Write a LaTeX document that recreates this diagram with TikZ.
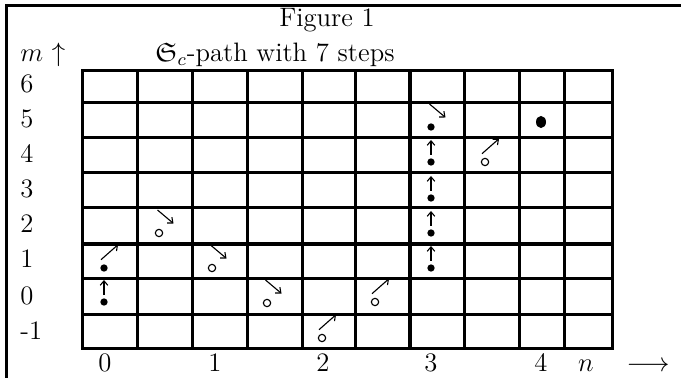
\documentclass[tikz,border=0pt]{standalone}
\usepackage{amssymb}
\usetikzlibrary{arrows.meta,shapes.geometric}
\newcommand{\upvec}[1]{\path (#1) ++(0,-7) coordinate (#1s) ++(0,-15) coordinate (#1e); \draw[vec] (#1s) -- (#1e);}
\newcommand{\nevec}[1]{\path (#1) ++(-3,-8.3) coordinate (#1s) ++(17,-15) coordinate (#1e); \draw[vec] (#1s) -- (#1e);}
\newcommand{\sevec}[1]{\path (#1) ++(-1.5,-23) coordinate (#1s) ++(16,13.5) coordinate (#1e); \draw[vec] (#1s) -- (#1e);}
\begin{document}
\begin{tikzpicture}[x=0.45pt,y=-0.45pt,
  font=\fontsize{12}{14}\selectfont,
  gridline/.style={line width=1.35pt},
  thickline/.style={line width=1.7pt},
  frameline/.style={line width=1.3pt},
  lab/.style={inner sep=0pt, anchor=base},
  rowlab/.style={inner sep=0pt, anchor=base west},
  dotmark/.style={circle, fill, inner sep=0pt, minimum size=3.3pt},
  ringmark/.style={circle, draw, line width=0.5pt, inner sep=0pt, minimum size=3.3pt},
  bigdot/.style={ellipse, fill, inner sep=0pt, minimum width=4.5pt, minimum height=5.5pt},
  vec/.style={line width=0.5pt, -{Straight Barb[length=2pt,width=3.4pt]}},
]
\useasboundingbox (0,0) rectangle (681,378);
% frame
\coordinate (ftl) at (6.5,5.5);
\coordinate (ftr) at (681,5.5);
\coordinate (fbl) at (6.5,378);
\draw[frameline] (ftr) -- (ftl) -- (fbl);
% grid
\foreach \gx in {82,137,192,247,302,355,464,519,564,612}
  \draw[gridline] (\gx,71) -- (\gx,348);
\foreach \gy in {71,103,138,173,208,279,314,348}
  \draw[gridline] (82,\gy) -- (612,\gy);
\draw[thickline] (410,71) -- (410,348);
\draw[thickline] (82,244) -- (612,244);
\draw[gridline, line cap=rect] (82,71) rectangle (612,348);
% texts
\node[lab] (title) at (327,27) {Figure 1};
\node[rowlab] (mlab) at (20,62) {$m$ $\uparrow$};
\node[lab] (sub) at (275,62) {$\mathfrak{S}_c$-path with 7 steps};
\node[rowlab] (r6) at (20,93) {6};
\node[rowlab] (r5) at (20,128) {5};
\node[rowlab] (r4) at (20,163) {4};
\node[rowlab] (r3) at (20,198) {3};
\node[rowlab] (r2) at (20,233) {2};
\node[rowlab] (r1) at (20,268) {1};
\node[rowlab] (r0) at (20,304) {0};
\node[rowlab] (rm1) at (20,339) {-1};
\node[lab] (c0) at (105,371) {0};
\node[lab] (c1) at (215,371) {1};
\node[lab] (c2) at (323,371) {2};
\node[lab] (c3) at (431,371) {3};
\node[lab] (c4) at (541,371) {4};
\node[lab] (cn) at (586,371) {$n$};
\node[lab] (carr) at (648,371) {$\longrightarrow$};
% markers
\node[dotmark] (p1) at (104,302) {};
\node[dotmark] (p2) at (104,268) {};
\node[ringmark] (p3) at (159,233) {};
\node[ringmark] (p4) at (212,268) {};
\node[ringmark] (p5) at (267,303) {};
\node[ringmark] (p6) at (322,338) {};
\node[ringmark] (p7) at (375,302) {};
\node[dotmark] (p8) at (431,268) {};
\node[dotmark] (p9) at (431,233) {};
\node[dotmark] (p10) at (431,198) {};
\node[dotmark] (p11) at (431,162) {};
\node[dotmark] (p12) at (431,127) {};
\node[ringmark] (p13) at (485,162) {};
\node[bigdot] (p14) at (541,122) {};
% vectors
\upvec{p1}
\nevec{p2}
\sevec{p3}
\sevec{p4}
\sevec{p5}
\nevec{p6}
\nevec{p7}
\upvec{p8}
\upvec{p9}
\upvec{p10}
\upvec{p11}
\sevec{p12}
\nevec{p13}
\end{tikzpicture}
\end{document}
